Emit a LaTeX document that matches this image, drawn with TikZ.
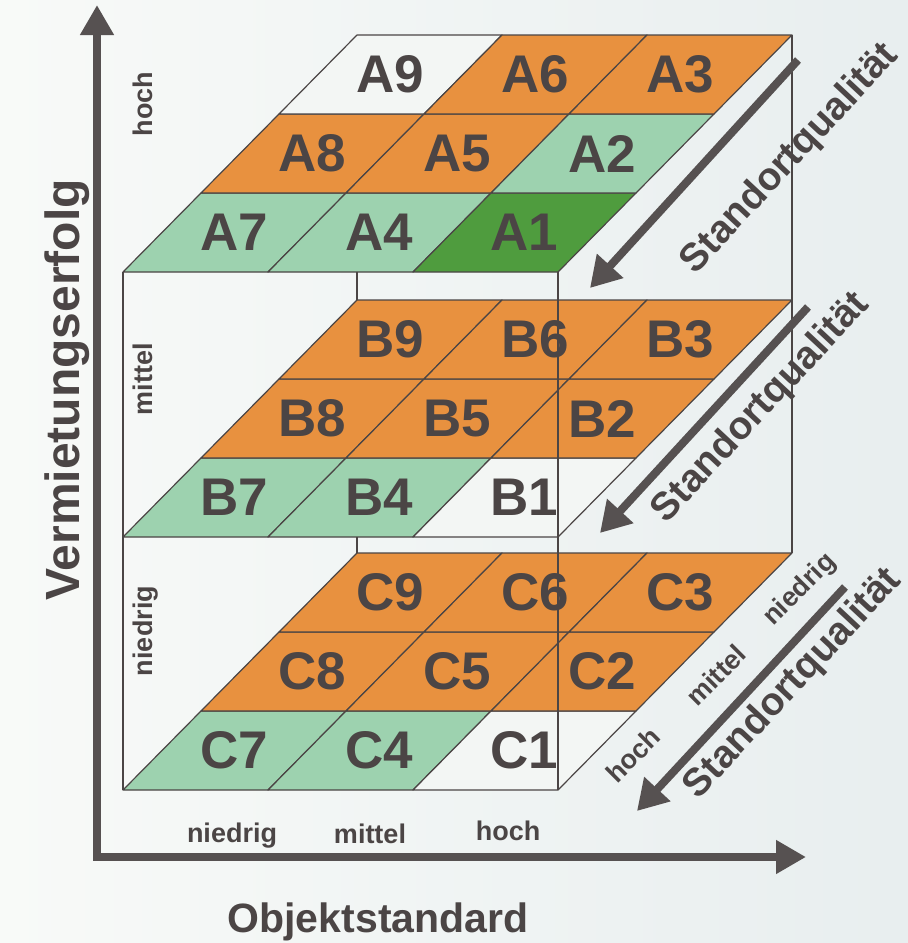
\documentclass[tikz,border=0pt]{standalone}
\usepackage{fontspec}
\setmainfont{Liberation Sans}
\usetikzlibrary{arrows.meta}

\definecolor{cellorange}{HTML}{E8913F}
\definecolor{cellgreen}{HTML}{9DD2AF}
\definecolor{celldarkgreen}{HTML}{4F9C3E}
\definecolor{cellwhite}{HTML}{F3F6F4}
\definecolor{inkgray}{HTML}{4B4545}
\definecolor{arrowgray}{HTML}{565151}
\definecolor{paperleft}{HTML}{F8FAF8}
\definecolor{paperright}{HTML}{E8EEEF}

\begin{document}
\begin{tikzpicture}[x=1pt,y=-1pt]
    \tikzstyle{CellStyle}=[draw=inkgray, line width=1.2pt, line join=round]
    \tikzstyle{LabelStyle}=[text=inkgray, inner sep=0pt, font=\fontsize{53}{53}\selectfont\bfseries]
    \tikzstyle{SmallText}=[text=inkgray, inner sep=0pt, font=\fontsize{27}{27}\selectfont\bfseries]
    \tikzstyle{QualText}=[text=inkgray, inner sep=0pt, rotate=47, font=\fontsize{39}{39}\selectfont\bfseries]
    \tikzstyle{AxisStyle}=[draw=arrowgray, line width=8pt, line join=miter]
    \tikzstyle{QualArrow}=[draw=arrowgray, line width=8pt, -{Triangle[length=30pt,width=34pt]}]

    \shade[left color=paperleft, right color=paperright] (0,0) rectangle (908,943);
    \useasboundingbox (0,0) rectangle (908,943);

    % Schicht A
    \begin{scope}[shift={(123,272)}, x={(145pt,0pt)}, y={(78pt,79pt)}]
      \foreach \i/\j/\c in {0/0/cellgreen, 1/0/cellgreen, 2/0/celldarkgreen,
                            0/1/cellorange, 1/1/cellorange, 2/1/cellgreen,
                            0/2/cellwhite, 1/2/cellorange, 2/2/cellorange}
      {
        \pgfmathtruncatemacro\nr{7+\j-3*\i}
        \filldraw[CellStyle, fill=\c] (\i,\j) -- ++(1,0) -- ++(0,1) -- ++(-1,0) -- cycle;
        \node[LabelStyle] (A\nr) at (\i+0.5,\j+0.5) {A\nr};
      }
    \end{scope}

    % Schicht B
    \begin{scope}[shift={(123,537)}, x={(145pt,0pt)}, y={(78pt,79pt)}]
      \foreach \i/\j/\c in {0/0/cellgreen, 1/0/cellgreen, 2/0/cellwhite,
                            0/1/cellorange, 1/1/cellorange, 2/1/cellorange,
                            0/2/cellorange, 1/2/cellorange, 2/2/cellorange}
      {
        \pgfmathtruncatemacro\nr{7+\j-3*\i}
        \filldraw[CellStyle, fill=\c] (\i,\j) -- ++(1,0) -- ++(0,1) -- ++(-1,0) -- cycle;
        \node[LabelStyle] (B\nr) at (\i+0.5,\j+0.5) {B\nr};
      }
    \end{scope}

    % Schicht C
    \begin{scope}[shift={(123,790)}, x={(145pt,0pt)}, y={(78pt,79pt)}]
      \foreach \i/\j/\c in {0/0/cellgreen, 1/0/cellgreen, 2/0/cellwhite,
                            0/1/cellorange, 1/1/cellorange, 2/1/cellorange,
                            0/2/cellorange, 1/2/cellorange, 2/2/cellorange}
      {
        \pgfmathtruncatemacro\nr{7+\j-3*\i}
        \filldraw[CellStyle, fill=\c] (\i,\j) -- ++(1,0) -- ++(0,1) -- ++(-1,0) -- cycle;
        \node[LabelStyle] (C\nr) at (\i+0.5,\j+0.5) {C\nr};
      }
    \end{scope}

    % Wuerfelkanten
    \draw[CellStyle] (123,272) -- (123,790);
    \draw[CellStyle] (558,272) -- (558,790);
    \draw[CellStyle] (792,35) -- (792,553);
    \draw[CellStyle] (357,272) -- (357,300);
    \draw[CellStyle] (357,537) -- (357,553);

    % Achsen
    \coordinate (origin) at (97,857);
    \coordinate (ytip) at (97,5);
    \coordinate (xtip) at (806,857);
    \draw[AxisStyle, {Triangle[length=30pt,width=32pt]}-{Triangle[length=30pt,width=32pt]}] (ytip) -- (origin) -- (xtip);

    \node[text=inkgray, rotate=90, font=\fontsize{48}{48}\selectfont\bfseries] (vermietung) at (67,390) {Vermietungserfolg};
    \node[text=inkgray, font=\fontsize{41}{41}\selectfont\bfseries] (objekt) at (378,922) {Objektstandard};

    \node[SmallText, rotate=90, anchor=base] (vhoch) at (152,104) {hoch};
    \node[SmallText, rotate=90, anchor=base] (vmittel) at (152,379) {mittel};
    \node[SmallText, rotate=90, anchor=base] (vniedrig) at (152,631) {niedrig};

    \node[SmallText, anchor=base] (oniedrig) at (232,842) {niedrig};
    \node[SmallText, anchor=base] (omittel) at (370,843) {mittel};
    \node[SmallText, anchor=base] (ohoch) at (508,840) {hoch};

    \node[SmallText, rotate=45] (shoch) at (633,755) {hoch};
    \node[SmallText, rotate=45] (smittel) at (716,675) {mittel};
    \node[SmallText, rotate=45] (sniedrig) at (800,590) {niedrig};

    % Standortqualitaet
    \coordinate (sqa1) at (798,60);
    \coordinate (sqb1) at (590,288);
    \coordinate (sqa2) at (808,307);
    \coordinate (sqb2) at (600,533);
    \coordinate (sqa3) at (845,587);
    \coordinate (sqb3) at (637,811);
    \draw[QualArrow] (sqa1) -- (sqb1);
    \draw[QualArrow] (sqa2) -- (sqb2);
    \draw[QualArrow] (sqa3) -- (sqb3);
    \node[QualText] (sq1) at (790,159) {Standortqualität};
    \node[QualText] (sq2) at (761,408) {Standortqualität};
    \node[QualText] (sq3) at (793,684) {Standortqualität};
\end{tikzpicture}
\end{document}
